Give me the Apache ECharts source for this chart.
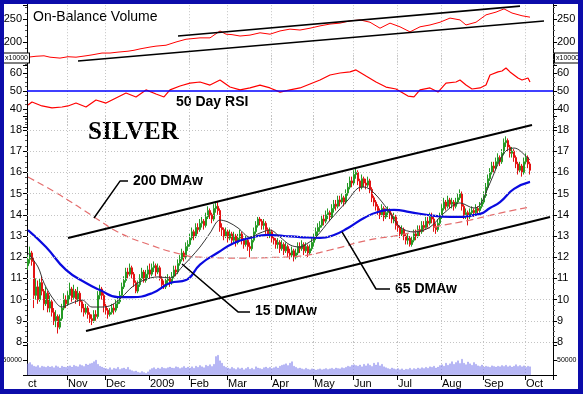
<!DOCTYPE html>
<html><head><meta charset="utf-8">
<script src="https://cdn.jsdelivr.net/npm/echarts@6/dist/echarts.min.js"></script>
<style>
html,body{margin:0;padding:0;background:#0c0caa;width:583px;height:394px;overflow:hidden}
#c{position:absolute;left:4px;top:4px;width:574px;height:385px;background:#fff}
</style></head><body><div id="c"></div>
<script>
// ---- axis / category definition (trading-day slots per month) ----
const monthLabels = ["ct","Nov","Dec","2009","Feb","Mar","Apr","May","Jun","Jul","Aug","Sep","Oct"];
const monthLengths = [20,19,22,20,19,22,21,20,22,22,21,21,14];
const priceTicks = [8,9,10,11,12,13,14,15,16,17,18];

// ---- price bars [open, close, low, high] ----
const ohlc = [
[11.6,11.9,11.4,12.1],[11.9,12.2,11.7,12.5],[12.2,11.8,11.6,12.3],[11.8,10.2,9.6,12.0],[10.2,10.6,10.0,11.0],
[10.6,10.0,9.8,10.9],[10.0,10.8,9.9,11.0],[10.8,10.4,10.2,11.1],[10.4,9.8,9.5,10.5],[9.8,10.3,9.7,10.6],
[10.3,9.6,9.4,10.4],[9.6,9.9,9.4,10.2],[9.9,9.4,9.2,10.0],[9.4,9.0,8.8,9.6],[9.0,9.2,8.7,9.5],
[9.2,8.7,8.4,9.3],[8.7,9.1,8.6,9.3],[9.1,9.6,9.0,9.8],[9.6,10.0,9.5,10.3],[10.0,9.8,9.6,10.2],
[9.8,10.2,9.7,10.4],[10.2,10.5,10.0,10.8],[10.5,10.1,9.9,10.6],[10.1,10.4,10.0,10.7],[10.4,10.0,9.8,10.5],
[10.0,10.3,9.9,10.6],[10.3,9.9,9.7,10.4],[9.9,9.6,9.4,10.0],[9.6,9.4,9.2,9.8],[9.4,9.6,9.3,9.8],
[9.6,9.3,9.1,9.7],[9.3,9.1,8.9,9.4],[9.1,9.0,8.8,9.3],[9.0,9.3,8.9,9.5],[9.3,9.2,9.0,9.5],
[9.2,10.2,9.1,10.4],[10.2,10.5,10.0,10.7],[10.5,10.2,10.0,10.6],[10.2,9.7,9.4,10.3],[9.7,9.5,9.3,9.8],
[9.5,9.3,9.1,9.6],[9.3,9.4,9.2,9.6],[9.4,9.6,9.3,9.8],[9.6,9.5,9.3,9.8],[9.5,9.8,9.4,10.0],
[9.8,9.9,9.6,10.1],[9.9,10.2,9.8,10.4],[10.2,10.6,10.1,10.8],[10.6,10.9,10.5,11.1],[10.9,11.3,10.8,11.5],
[11.3,11.2,11.0,11.5],[11.2,11.5,11.1,11.7],[11.5,11.2,11.0,11.6],[11.2,10.8,10.6,11.3],[10.8,10.4,10.3,10.9],
[10.4,10.7,10.3,10.9],[10.7,11.0,10.6,11.2],[11.0,11.3,10.9,11.5],[11.3,10.9,10.8,11.4],[10.9,11.2,10.8,11.4],
[11.2,11.4,11.0,11.6],[11.4,11.2,11.0,11.7],[11.2,11.5,11.1,11.7],[11.5,11.6,11.3,11.8],[11.6,11.3,11.1,11.7],
[11.3,11.5,11.2,11.7],[11.5,11.0,10.9,11.6],[11.0,10.7,10.6,11.1],[10.7,10.6,10.5,10.9],[10.6,10.9,10.5,11.1],
[10.9,11.0,10.7,11.2],[11.0,10.8,10.6,11.1],[10.8,11.1,10.7,11.3],[11.1,11.4,11.0,11.6],[11.4,11.3,11.1,11.6],
[11.3,11.7,11.2,11.9],[11.7,11.9,11.6,12.1],[11.9,12.2,11.8,12.4],[12.2,12.0,11.8,12.3],[12.0,12.5,11.9,12.7],
[12.5,12.6,12.3,12.8],[12.6,12.9,12.5,13.1],[12.9,13.2,12.8,13.4],[13.2,13.0,12.8,13.3],[13.0,13.4,12.9,13.6],
[13.4,13.3,13.1,13.6],[13.3,13.6,13.2,13.8],[13.6,13.7,13.4,13.9],[13.7,13.5,13.3,13.8],[13.5,13.9,13.4,14.1],
[13.9,14.2,13.8,14.4],[14.2,14.0,13.8,14.3],[14.0,13.8,13.6,14.1],[13.8,14.3,13.7,14.5],[14.3,14.4,14.1,14.6],
[14.4,14.2,14.0,14.6],[14.2,13.4,13.2,14.3],[13.4,13.3,13.0,13.6],[13.3,13.0,12.8,13.4],[13.0,13.2,12.9,13.4],
[13.2,12.9,12.7,13.3],[12.9,13.1,12.8,13.3],[13.1,12.8,12.6,13.2],[12.8,13.0,12.7,13.2],[13.0,12.7,12.5,13.1],
[12.7,12.9,12.6,13.1],[12.9,13.1,12.8,13.3],[13.1,12.8,12.6,13.2],[12.8,12.6,12.4,12.9],[12.6,12.8,12.5,13.0],
[12.8,12.5,12.3,12.9],[12.5,12.4,12.0,12.7],[12.4,12.8,12.3,13.0],[12.8,13.2,12.7,13.4],[13.2,13.5,13.1,13.7],
[13.5,13.8,13.4,13.9],[13.8,13.7,13.5,13.9],[13.7,13.5,13.3,13.8],[13.5,13.6,13.3,13.8],[13.6,13.3,13.1,13.7],
[13.3,13.1,12.9,13.4],[13.1,13.2,12.9,13.4],[13.2,12.9,12.7,13.3],[12.9,12.8,12.6,13.1],[12.8,12.6,12.4,12.9],
[12.6,12.7,12.4,12.9],[12.7,12.4,12.2,12.8],[12.4,12.6,12.3,12.8],[12.6,12.3,12.1,12.7],[12.3,12.5,12.2,12.7],
[12.5,12.2,12.0,12.6],[12.2,12.1,11.9,12.4],[12.1,12.3,12.0,12.5],[12.3,12.0,11.8,12.4],[12.0,12.2,11.9,12.4],
[12.2,12.5,12.1,12.7],[12.5,12.4,12.2,12.7],[12.4,12.6,12.3,12.8],[12.6,12.3,12.1,12.7],[12.3,12.5,12.2,12.7],
[12.5,12.2,12.0,12.6],[12.2,12.4,12.1,12.6],[12.4,12.7,12.3,12.9],[12.7,12.9,12.5,13.1],[12.9,13.2,12.8,13.4],
[13.2,13.4,13.0,13.6],[13.4,13.5,13.2,13.7],[13.5,13.8,13.4,14.0],[13.8,13.7,13.5,14.0],[13.7,14.0,13.6,14.2],
[14.0,14.1,13.8,14.3],[14.1,13.9,13.7,14.2],[13.9,14.3,13.8,14.5],[14.3,14.5,14.1,14.7],[14.5,14.4,14.2,14.7],
[14.4,14.7,14.3,14.9],[14.7,14.6,14.4,14.9],[14.6,14.8,14.5,15.0],[14.8,14.6,14.4,14.9],[14.6,15.0,14.5,15.2],
[15.0,15.3,14.9,15.5],[15.3,15.6,15.2,15.8],[15.6,15.5,15.3,15.8],[15.5,15.9,15.4,16.1],[15.9,16.0,15.7,16.2],
[16.0,15.6,15.4,16.1],[15.6,15.3,15.1,15.7],[15.3,15.7,15.2,15.9],[15.7,15.5,15.3,15.8],[15.5,15.4,15.2,15.7],
[15.4,15.6,15.3,15.8],[15.6,15.2,15.0,15.7],[15.2,14.8,14.6,15.3],[14.8,14.6,14.4,14.9],[14.6,14.4,14.2,14.7],
[14.4,14.2,14.0,14.5],[14.2,14.0,13.8,14.3],[14.0,14.3,13.9,14.5],[14.3,13.9,13.7,14.4],[13.9,14.1,13.8,14.3],
[14.1,14.2,13.9,14.4],[14.2,14.0,13.8,14.3],[14.0,13.8,13.6,14.1],[13.8,13.9,13.6,14.1],[13.9,13.5,13.3,14.0],
[13.5,13.4,13.2,13.7],[13.4,13.1,12.9,13.5],[13.1,13.3,13.0,13.5],[13.3,13.0,12.8,13.4],[13.0,12.8,12.6,13.1],
[12.8,12.9,12.6,13.1],[12.9,12.6,12.5,13.0],[12.6,12.8,12.5,13.0],[12.8,13.1,12.7,13.3],[13.1,13.0,12.8,13.3],
[13.0,13.3,12.9,13.5],[13.3,13.2,13.0,13.5],[13.2,13.5,13.1,13.7],[13.5,13.4,13.2,13.7],[13.4,13.7,13.3,13.9],
[13.7,13.6,13.4,13.9],[13.6,13.9,13.5,14.1],[13.9,13.8,13.6,14.1],[13.8,13.4,13.2,13.9],[13.4,13.3,13.1,13.6],
[13.3,13.6,13.2,13.8],[13.6,13.9,13.5,14.1],[13.9,14.3,13.8,14.5],[14.3,14.6,14.2,14.8],[14.6,14.4,14.2,14.7],
[14.4,14.7,14.3,14.9],[14.7,14.5,14.3,14.8],[14.5,14.6,14.3,14.8],[14.6,14.4,14.2,14.7],[14.4,14.6,14.3,14.8],
[14.6,14.8,14.5,15.0],[14.8,15.0,14.7,15.2],[15.0,14.4,14.2,15.1],[14.4,14.0,13.8,14.5],[14.0,14.1,13.8,14.3],
[14.1,13.9,13.5,14.2],[13.9,14.1,13.8,14.3],[14.1,14.2,14.0,14.4],[14.2,14.1,13.9,14.3],[14.1,14.3,14.0,14.5],
[14.3,14.2,14.0,14.4],[14.2,14.4,14.1,14.6],[14.4,14.6,14.3,14.8],[14.6,14.9,14.5,15.1],[14.9,15.3,14.8,15.5],
[15.3,15.7,15.2,15.9],[15.7,16.0,15.6,16.2],[16.0,16.3,15.9,16.5],[16.3,16.2,16.0,16.5],[16.2,16.5,16.1,16.7],
[16.5,16.7,16.4,16.9],[16.7,16.5,16.3,16.8],[16.5,16.9,16.4,17.1],[16.9,17.4,16.8,17.6],[17.4,17.5,17.2,17.7],
[17.5,17.2,17.0,17.6],[17.2,16.9,16.7,17.3],[16.9,17.0,16.7,17.2],[17.0,16.7,16.5,17.1],[16.7,16.4,16.2,16.8],
[16.4,16.1,15.9,16.5],[16.1,16.3,16.0,16.5],[16.3,16.0,15.8,16.4],[16.0,16.5,15.9,16.7],[16.5,16.7,16.4,16.9],
[16.7,16.4,16.2,16.8],[16.4,16.1,15.9,16.5]
];

// ---- weighted moving averages [slot, value] ----
const ma15 = [[0,12.2],[5,11.54],[8,10.78],[13,9.98],[17,9.65],[22,9.84],[27,9.98],[32,9.65],[37,9.65],[42,9.75],[47,10.12],[52,10.59],[58,10.92],[65,11.07],[71,11.02],[77,11.54],[86,12.48],[91,13.14],[96,13.75],[100,13.66],[105,13.38],[111,12.95],[116,13.14],[121,13.28],[126,12.95],[131,12.58],[136,12.48],[140,12.67],[144,12.95],[151,13.75],[160,14.70],[165,15.26],[168,15.31],[173,15.03],[180,14.23],[186,13.42],[193,13.19],[201,13.42],[208,14.08],[216,14.56],[223,14.32],[226,14.46],[231,15.5],[238,16.92],[243,17.15],[250,16.68],[251,16.58]];
const ma65 = [[0,13.28],[9,12.48],[19,11.40],[29,10.78],[36,10.45],[45,10.12],[52,10.12],[62,10.3],[71,10.78],[79,10.92],[86,11.65],[95,12.22],[103,12.67],[111,12.91],[120,13.05],[128,13.0],[136,12.95],[146,12.91],[153,13.05],[160,13.38],[168,13.85],[175,14.13],[183,14.23],[191,14.13],[200,13.99],[211,13.9],[226,14.04],[231,14.32],[236,14.6],[243,15.22],[251,15.55]];
const ma200 = [[0,15.78],[16,14.93],[33,13.9],[46,13.14],[61,12.58],[76,12.15],[86,12.0],[106,11.96],[126,12.0],[136,12.05],[151,12.34],[170,12.8],[186,13.05],[203,13.42],[221,13.75],[236,14.08],[251,14.37]];

// ---- trend channels ----
const priceUpper = [[20,12.91],[252,18.24]];
const priceLower = [[29,8.52],[261,13.90]];
const obvUpper = [[75,213],[246,278]];
const obvLower = [[25,158.7],[258,245.7]];

// ---- callout leaders (data space) ----
const lead200 = [[50,15.59],[46,15.59],[33,13.85]];
const lead15 = [[111,9.42],[105,9.42],[77,11.68]];
const lead65 = [[181,10.5],[174,10.5],[157,13.19]];

// ---- On-Balance Volume (x10000) ----
const obv = [[0,167],[4,169],[8,170],[11,167],[16,165],[20,168],[24,167],[29,170],[32,172],[37,176],[41,176],[45,178],[50,180],[53,182],[56,185],[61,189],[64,191],[69,193],[74,200],[79,206],[86,209],[91,209],[94,218],[96,224],[99,217],[102,216],[106,213],[111,215],[116,220],[121,217],[126,224],[131,228],[136,226],[141,230],[146,235],[151,239],[156,241],[161,246],[166,248],[171,243],[176,230],[181,241],[186,233],[191,222],[196,233],[201,237],[206,243],[211,252],[216,248],[219,237],[224,243],[229,259],[234,265],[238,272],[242,263],[247,257],[251,254]];

// ---- 50 day RSI ----
const rsi = [[0,42.2],[2,43.9],[7,41.7],[12,40.6],[17,41.1],[20,41.7],[24,43.3],[29,41.1],[34,45],[39,43.3],[44,46.1],[49,48.9],[54,46.7],[59,50.6],[64,48.3],[68,46.7],[71,50.6],[76,52.8],[81,54.4],[86,55],[91,53.3],[96,56.1],[101,52.2],[106,50.6],[111,51.7],[116,53.3],[121,51.7],[126,49.4],[131,50.6],[136,51.7],[141,53.9],[146,56.1],[151,58.9],[156,60],[161,60.6],[164,61.7],[169,58.3],[174,55],[179,52.2],[184,51.1],[190,47.2],[193,46.7],[196,50.6],[201,51.7],[205,49.4],[209,54.4],[214,55],[216,56.1],[219,53.3],[222,51.1],[226,51.7],[229,53.3],[231,58.9],[235,60.6],[237,61.1],[239,62.8],[241,60.6],[245,57.2],[247,56.1],[250,57.2],[251,55]];

// ---- volume (thousands) ----
const volume = [38,42,35,30,28,32,25,30,28,26, 30,27,29,25,31,28,24,30,27,26, 29,31,27,33,30,28,35,32,29,37,
34,38,40,45,50,36,30,27,24, 22,20,25,18,23,21,26,19,22,24, 20,26,18,15,12,14,10,8,12,9,6,11,
18,22,25,20,24,21,26,23,22,25, 27,24,23,28,26,22,25,29,24,27, 24,28,23,30,26,32,28,25,33,30,
35,29,36,62,66,48,40,30,26, 24,21,26,22,19,25,21,24,18,22, 26,20,23,19,28,24,22,20,25,27,23,26,
22,25,28,24,30,33,35,38,32,40,45, 30,26,22,24,21,19,23,20,18,21, 20,17,19,21,18,20,22,19,21,23,
20,24,22,21,25,23,26,30,28,33, 35,32,30,34,28,36,31,38,33,29, 40,34,42,31,36,28,25,22,20,24,21,19,
22,18,21,17,20,19,23,18,22,20,24, 21,25,22,26,23,28,26,30,24,27,32, 35,30,40,33,38,45,36,42,48,39,53,
40,35,44,38,33,42,36,31,29,34, 27,30,28,26,31,29,27,30,28,32,29, 33,28,31,27,30,35,29,32,28,31,26,30,28];

// ---- build categories ----
const cats = [], monthStart = new Map();
let k = 0;
monthLengths.forEach((n, m) => { monthStart.set(k, monthLabels[m]); for (let j = 0; j < n; j++) cats.push(m + '-' + j); k += n; });
const yearIdx = monthLengths.slice(0, 3).reduce((a, b) => a + b, 0);

const FONT = '"Liberation Sans", Arial, sans-serif';
const gridCol = '#c4c4c4';
const splitFn = i => monthStart.has(i) && i !== 0 && i !== yearIdx;
const isInt = v => Math.abs(v - Math.round(v)) < 1e-6;

const grids = [
  {left: 23, right: 25, top: 0, bottom: 14},      // frame
  {left: 23, right: 25, top: 1.2, height: 59.8},  // OBV
  {left: 23, right: 25, top: 51, height: 72},     // RSI
  {left: 23, right: 25, top: 112, height: 226},   // price
  {left: 23, right: 25, top: 338, height: 33}     // volume
].map(g => Object.assign(g, {outerBoundsMode: 'none', containLabel: false}));

function xAx(gi, opts) {
  return Object.assign({
    type: 'category', data: cats, gridIndex: gi, boundaryGap: true,
    axisLine: {show: false}, axisTick: {show: false}, axisLabel: {show: false},
    splitLine: {show: true, interval: splitFn, lineStyle: {color: gridCol, type: [1, 2], width: 1}}
  }, opts || {});
}
const xAxes = [
  xAx(0, {splitLine: {show: true, interval: i => i === yearIdx, lineStyle: {color: '#9a9a9a', width: 1}}}),
  xAx(1), xAx(2), xAx(3),
  xAx(4, {
    axisLine: {show: true, lineStyle: {color: '#000', width: 1}},
    axisTick: {show: true, interval: i => monthStart.has(i) && i !== 0, length: 5, lineStyle: {color: '#000'}},
    axisLabel: {show: true, interval: i => monthStart.has(i), formatter: (v, i) => monthStart.get(i) || '',
      align: 'left', margin: 3, fontSize: 11, color: '#000', fontFamily: FONT}
  })
];

function yAx(gi, pos, min, max, interval, fmt, extra) {
  return Object.assign({
    type: 'value', gridIndex: gi, position: pos, min: min, max: max, interval: interval,
    axisLine: {show: true, lineStyle: {color: '#000', width: 1}},
    axisTick: {show: true, length: 4, lineStyle: {color: '#000'}},
    minorTick: {show: true, splitNumber: 4, length: 2, lineStyle: {color: '#555'}},
    splitLine: {show: false},
    axisLabel: {show: true, formatter: fmt, fontSize: 11, color: '#000', fontFamily: FONT, margin: pos === 'left' ? 5 : 4}
  }, extra || {});
}
const obvFmt = v => (v === 200 || v === 250) ? String(v) : '';
const rsiFmt = v => (v >= 40 && v <= 60) ? String(v) : '';
const priceFmt = v => isInt(v) ? String(Math.round(v)) : '';
const volFmt = v => v === 50 ? '50000' : '';
const yAxes = [
  {type: 'value', gridIndex: 0, position: 'left', min: 0, max: 1, axisLine: {show: true, lineStyle: {color: '#000'}}, axisTick: {show: false}, axisLabel: {show: false}, splitLine: {show: false}},
  {type: 'value', gridIndex: 0, position: 'right', min: 0, max: 1, axisLine: {show: true, lineStyle: {color: '#000'}}, axisTick: {show: false}, axisLabel: {show: false}, splitLine: {show: false}},
  yAx(1, 'left', 150, 280, 50, obvFmt), yAx(1, 'right', 150, 280, 50, obvFmt),
  yAx(2, 'left', 30, 70, 10, rsiFmt), yAx(2, 'right', 30, 70, 10, rsiFmt),
  yAx(3, 'left', 8, 8 + 226 / 21.2, 1, priceFmt), yAx(3, 'right', 8, 8 + 226 / 21.2, 1, priceFmt),
  yAx(4, 'left', 0, 110, 50, volFmt, {minorTick: {show: false}}), yAx(4, 'right', 0, 110, 50, volFmt, {minorTick: {show: false}})
];
yAxes[8].axisLabel.fontSize = 7; yAxes[9].axisLabel.fontSize = 7;

const noSym = {showSymbol: false, symbol: 'none', silent: true, animation: false};
function line(name, xi, yi, data, style, extra) {
  return Object.assign({type: 'line', name: name, xAxisIndex: xi, yAxisIndex: yi, data: data, lineStyle: style, z: 3}, noSym, extra || {});
}

const option = {
  animation: false,
  backgroundColor: '#fff',
  grid: grids,
  xAxis: xAxes,
  yAxis: yAxes,
  series: [
    line('grid', 3, 6, [], {width: 0}, {z: 1, markLine: {silent: true, symbol: ['none', 'none'], label: {show: false},
      lineStyle: {color: gridCol, type: [1, 2], width: 1}, data: priceTicks.map(v => ({yAxis: v}))}}),
    {type: 'candlestick', name: 'Silver', xAxisIndex: 3, yAxisIndex: 6, data: ohlc, barWidth: '80%', barMaxWidth: 2, z: 2,
      itemStyle: {color: '#4cc44c', color0: '#ff2a2a', borderColor: '#259a25', borderColor0: '#e31212', borderWidth: 1}, silent: true},
    line('200 DMAw', 3, 6, ma200, {color: '#e46e6e', width: 1.2, type: [7, 4]}, {smooth: 0.5}),
    line('65 DMAw', 3, 6, ma65, {color: '#0a0ae0', width: 2.2}, {smooth: 0.5, z: 4}),
    line('15 DMAw', 3, 6, ma15, {color: '#353535', width: 1}, {smooth: 0.35, z: 4}),
    line('upper', 3, 6, priceUpper, {color: '#000', width: 2}, {z: 5}),
    line('lower', 3, 6, priceLower, {color: '#000', width: 2}, {z: 5}),
    line('l200', 3, 6, lead200, {color: '#000', width: 1.5}, {z: 5}),
    line('l15', 3, 6, lead15, {color: '#000', width: 1.5}, {z: 5}),
    line('l65', 3, 6, lead65, {color: '#000', width: 1.5}, {z: 5}),
    line('OBV', 1, 2, obv, {color: '#ff0000', width: 1}),
    line('obvU', 1, 2, obvUpper, {color: '#000', width: 1.6}),
    line('obvL', 1, 2, obvLower, {color: '#000', width: 1.6}),
    line('RSI', 2, 4, rsi, {color: '#ff0000', width: 1.2}, {markLine: {silent: true, symbol: ['none', 'none'], label: {show: false},
      lineStyle: {color: '#0000ff', type: 'solid', width: 1.6}, data: [{yAxis: 50}]}}),
    {type: 'bar', name: 'Volume', xAxisIndex: 4, yAxisIndex: 8, data: volume, barWidth: '60%', silent: true,
      itemStyle: {color: '#9c9cf4', borderColor: '#7777e6', borderWidth: 0.3}}
  ],
  graphic: [
    {type: 'text', x: 29, y: 13, style: {text: 'On-Balance Volume', font: '14px ' + FONT, fill: '#000', verticalAlign: 'middle'}},
    {type: 'text', x: 172, y: 98, style: {text: '50 Day RSI', font: 'bold 14px ' + FONT, fill: '#000', verticalAlign: 'middle'}},
    {type: 'text', x: 84, y: 129, style: {text: 'SILVER', font: 'bold 25px "Liberation Serif", "Times New Roman", serif', fill: '#000', verticalAlign: 'middle'}},
    {type: 'text', x: 129, y: 177, style: {text: '200 DMAw', font: 'bold 14px ' + FONT, fill: '#000', verticalAlign: 'middle'}},
    {type: 'text', x: 251, y: 307, style: {text: '15 DMAw', font: 'bold 14px ' + FONT, fill: '#000', verticalAlign: 'middle'}},
    {type: 'text', x: 391, y: 285, style: {text: '65 DMAw', font: 'bold 14px ' + FONT, fill: '#000', verticalAlign: 'middle'}},
    {type: 'text', x: 0, y: 54, z: 10, style: {text: 'x10000', font: '7px ' + FONT, fill: '#000', verticalAlign: 'middle', backgroundColor: '#fff', borderColor: '#000', borderWidth: 1, padding: [1, 1]}},
    {type: 'text', x: 551, y: 54, z: 10, style: {text: 'x10000', font: '7px ' + FONT, fill: '#000', verticalAlign: 'middle', backgroundColor: '#fff', borderColor: '#000', borderWidth: 1, padding: [1, 1]}}
  ]
};
const chart = echarts.init(document.getElementById('c'), null, {renderer: 'canvas'});
chart.setOption(option);
</script></body></html>
